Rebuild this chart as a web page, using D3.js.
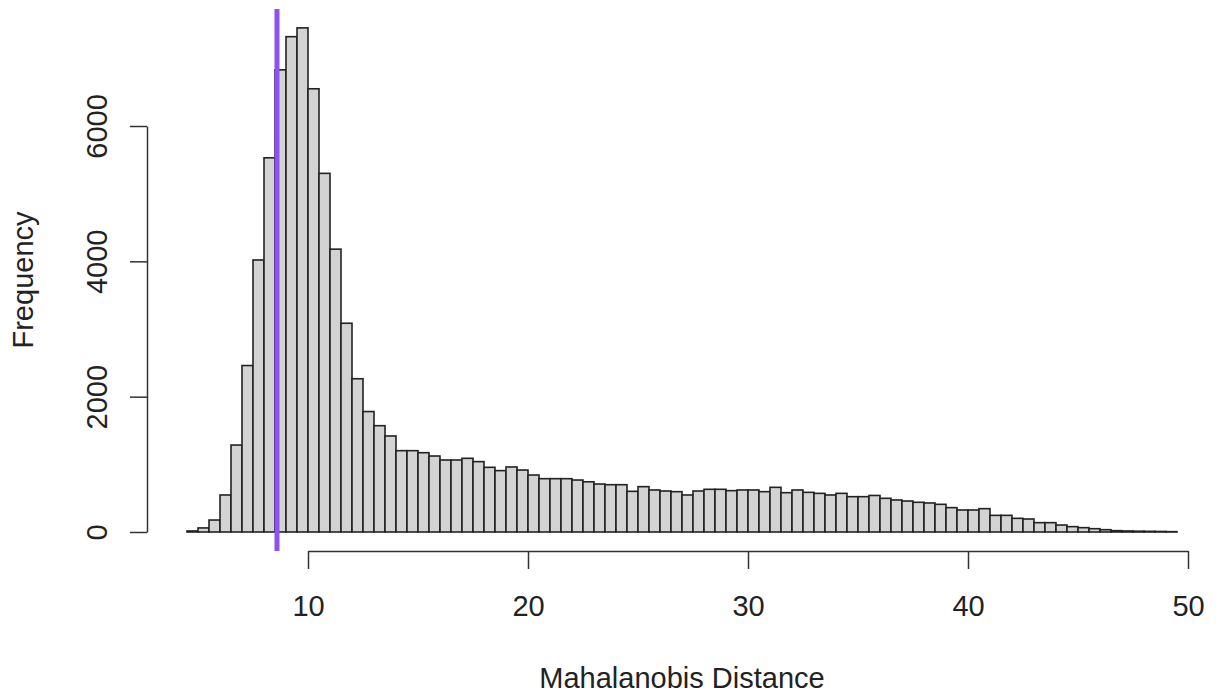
<!DOCTYPE html>
<html>
<head>
<meta charset="utf-8">
<script src="https://cdn.jsdelivr.net/npm/d3@7"></script>
<style>
  html, body { margin: 0; padding: 0; background: #fff; }
  svg { display: block; font-family: "Liberation Sans", Arial, sans-serif; }
</style>
</head>
<body>
<svg id="chart" width="1216" height="695"></svg>
<script>
// histogram bins: first bin starts at 4.5, each 0.5 wide
const firstBin = 4.5
const binWidth = 0.5
const counts = [
  15, 60, 177, 547, 1285, 2460, 4020, 5530, 6830, 7320,
  7450, 6550, 5300, 4180, 3085, 2265, 1780, 1571, 1419, 1202,
  1202, 1172, 1123, 1064, 1064, 1089, 1040, 956, 907, 961,
  916, 842, 788, 788, 788, 768, 742, 709, 699, 699,
  601, 670, 621, 606, 596, 547, 606, 631, 631, 611,
  621, 621, 596, 660, 581, 621, 586, 571, 547, 571,
  522, 522, 540, 498, 473, 458, 439, 429, 409, 360,
  325, 325, 345, 246, 246, 202, 192, 138, 138, 103,
  79, 64, 49, 34, 20, 15, 12, 10, 8, 5
]
const xTicks = [10, 20, 30, 40, 50]
const yTicks = [0, 2000, 4000, 6000]
const cutoff = 8.59

const svg = d3.select('#chart')

const x = d3.scaleLinear().domain([10, 50]).range([308, 1188])
const y = d3.scaleLinear().domain([0, 6000]).range([532, 126])

const bins = counts.map((c, i) => ({
  x0: firstBin + i * binWidth,
  x1: firstBin + (i + 1) * binWidth,
  count: c
}))

svg.append('g')
  .selectAll('rect')
  .data(bins)
  .join('rect')
    .attr('x', d => x(d.x0))
    .attr('y', d => y(d.count))
    .attr('width', d => x(d.x1) - x(d.x0))
    .attr('height', d => y(0) - y(d.count))
    .attr('fill', '#d3d3d3')
    .attr('stroke', '#222')
    .attr('stroke-width', 1.6)

// cutoff line
svg.append('line')
  .attr('x1', x(cutoff)).attr('x2', x(cutoff))
  .attr('y1', 9).attr('y2', 551)
  .attr('stroke', '#8d52f2')
  .attr('stroke-width', 5)

// x axis
const xAxis = svg.append('g')
  .attr('transform', 'translate(0,551)')
  .call(d3.axisBottom(x).tickValues(xTicks).tickSize(18).tickSizeOuter(0).tickPadding(26))
xAxis.select('.domain').attr('stroke', '#333').attr('stroke-width', 1.5)
xAxis.selectAll('.tick line').attr('stroke', '#333').attr('stroke-width', 1.5)
xAxis.selectAll('.tick text')
  .attr('font-size', 29)
  .attr('font-family', '"Liberation Sans", Arial, sans-serif')
  .attr('fill', '#222')

// y axis
const yAxis = svg.append('g')
  .attr('transform', 'translate(147,0)')
  .call(d3.axisLeft(y).tickValues(yTicks).tickFormat(d3.format('d')).tickSize(17).tickSizeOuter(0))
yAxis.select('.domain').attr('stroke', '#333').attr('stroke-width', 1.5)
yAxis.selectAll('.tick line').attr('stroke', '#333').attr('stroke-width', 1.5)
yAxis.selectAll('.tick text')
  .attr('font-size', 29)
  .attr('font-family', '"Liberation Sans", Arial, sans-serif')
  .attr('fill', '#222')
  .attr('text-anchor', 'middle')
  .attr('transform', 'rotate(-90)')
  .attr('x', 0)
  .attr('y', -40)
  .attr('dy', 0)

// axis titles
svg.append('text')
  .attr('x', 682)
  .attr('y', 688)
  .attr('text-anchor', 'middle')
  .attr('font-size', 29)
  .attr('fill', '#222')
  .text('Mahalanobis Distance')

svg.append('text')
  .attr('transform', 'translate(33,280) rotate(-90)')
  .attr('text-anchor', 'middle')
  .attr('font-size', 29)
  .attr('fill', '#222')
  .text('Frequency')
</script>
</body>
</html>
